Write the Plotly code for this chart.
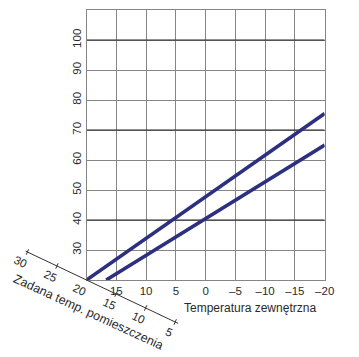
import math
import plotly.graph_objects as go

# ---------------- data ----------------
outdoor_ticks = [15, 10, 5, 0, -5, -10, -15, -20]
outdoor_labels = ["15", "10", "5", "0", "–5", "–10", "–15", "–20"]
flow_ticks = [30, 40, 50, 60, 70, 80, 90, 100]
flow_strong = [40, 70, 100]

curve1_outdoor = [20, 0, -20]
curve1_flow = [20, 47.8, 75.5]
curve2_outdoor = [16.7, 0, -20]
curve2_flow = [20, 40.5, 65]

room_ticks = [30, 25, 20, 15, 10, 5]
room_labels = ["30", "25", "20", "15", "10", "5"]
room_axis_span = [30.3, 4.5]

# ---------------- layout constants ----------------
W, H = 359, 357
PL, PR, PT, PB = 89, 334, 10, 280
X_RANGE = [20, -20]
Y_RANGE = [20, 110]
FONT = "Liberation Sans, Arial, Helvetica, sans-serif"
TXT = "#2a2a2a"
GRID = "#858585"
NAVY = "#2d2f80"

fig = go.Figure()

# emphasized (black) horizontal grid lines
hx, hy = [], []
for v in flow_strong:
    hx += [X_RANGE[0], X_RANGE[1], None]
    hy += [v, v, None]
fig.add_trace(go.Scatter(x=hx, y=hy, mode="lines", line=dict(color="#222222", width=1),
                         hoverinfo="skip", showlegend=False, xaxis="x", yaxis="y"))

for xs, ys in [(curve1_outdoor, curve1_flow), (curve2_outdoor, curve2_flow)]:
    fig.add_trace(go.Scatter(x=xs, y=ys, mode="lines", line=dict(color=NAVY, width=3.6),
                             showlegend=False, xaxis="x", yaxis="y"))

# ---------------- oblique room-temperature axis (pixel overlay axes) ----------------
# origin = pixel position of main-axis corner (outdoor 20, flow 20)
ox = PL + (20 - X_RANGE[0]) / (X_RANGE[1] - X_RANGE[0]) * (PR - PL)
oy = PB - (20 - Y_RANGE[0]) / (Y_RANGE[1] - Y_RANGE[0]) * (PB - PT)
step_x, step_y = 30.4 / 5, 14.0 / 5          # pixels per degree of room temp decrease
L = math.hypot(step_x, step_y)
ux, uy = step_x / L, step_y / L             # unit along axis
px_, py_ = -uy, ux                           # unit perpendicular (down-left)
ang = math.degrees(math.atan2(step_y, step_x))

def room_pos(t):
    return ox + (20 - t) * step_x, oy + (20 - t) * step_y

a0, a1 = room_pos(room_axis_span[0]), room_pos(room_axis_span[1])
fig.add_trace(go.Scatter(x=[a0[0], a1[0]], y=[a0[1], a1[1]], mode="lines",
                         line=dict(color="#333333", width=1), hoverinfo="skip",
                         showlegend=False, xaxis="x2", yaxis="y2"))
tx, ty = [], []
for t in room_ticks:
    if t == 20:
        continue
    cx, cy = room_pos(t)
    tx += [cx - px_ * 3, cx + px_ * 3, None]
    ty += [cy - py_ * 3, cy + py_ * 3, None]
fig.add_trace(go.Scatter(x=tx, y=ty, mode="lines", line=dict(color="#333333", width=1),
                         hoverinfo="skip", showlegend=False, xaxis="x2", yaxis="y2"))

annotations = []
for t, lab in zip(room_ticks, room_labels):
    cx, cy = room_pos(t)
    annotations.append(dict(x=cx + px_ * 12 - ux * 2, y=cy + py_ * 12 - uy * 2,
                            xref="x2", yref="y2", text=lab, showarrow=False,
                            textangle=ang, xanchor="center", yanchor="middle",
                            font=dict(family=FONT, size=11.5, color=TXT)))
tcx, tcy = room_pos(17.8)
annotations.append(dict(x=tcx + px_ * 28, y=tcy + py_ * 28, xref="x2", yref="y2",
                        text="Zadana temp. pomieszczenia", showarrow=False,
                        textangle=ang, xanchor="center", yanchor="middle",
                        font=dict(family=FONT, size=12.5, color=TXT)))
annotations.append(dict(x=257, y=308, xref="x2", yref="y2", text="Temperatura zewnętrzna",
                        showarrow=False, xanchor="center", yanchor="middle",
                        font=dict(family=FONT, size=12, color=TXT)))

fig.update_layout(
    width=W, height=H, margin=dict(l=0, r=0, t=0, b=0),
    paper_bgcolor="white", plot_bgcolor="rgba(0,0,0,0)",
    showlegend=False,
    xaxis=dict(domain=[PL / W, PR / W], range=X_RANGE, tickvals=outdoor_ticks,
               ticktext=outdoor_labels, showgrid=True, gridcolor=GRID, gridwidth=1,
               showline=True, linecolor=GRID, linewidth=1, mirror=True, zeroline=False,
               ticks="", tickfont=dict(family=FONT, size=11.5, color=TXT), anchor="y"),
    yaxis=dict(domain=[1 - PB / H, 1 - PT / H], range=Y_RANGE, tickvals=flow_ticks,
               showgrid=True, gridcolor=GRID, gridwidth=1, tickangle=-90,
               showline=True, linecolor=GRID, linewidth=1, mirror=True, zeroline=False,
               ticks="", tickfont=dict(family=FONT, size=11.5, color=TXT), anchor="x"),
    xaxis2=dict(domain=[0, 1], range=[0, W], visible=False, anchor="y2", fixedrange=True),
    yaxis2=dict(domain=[0, 1], range=[H, 0], visible=False, anchor="x2", fixedrange=True),
    annotations=annotations,
)

fig.write_html("out.html")
